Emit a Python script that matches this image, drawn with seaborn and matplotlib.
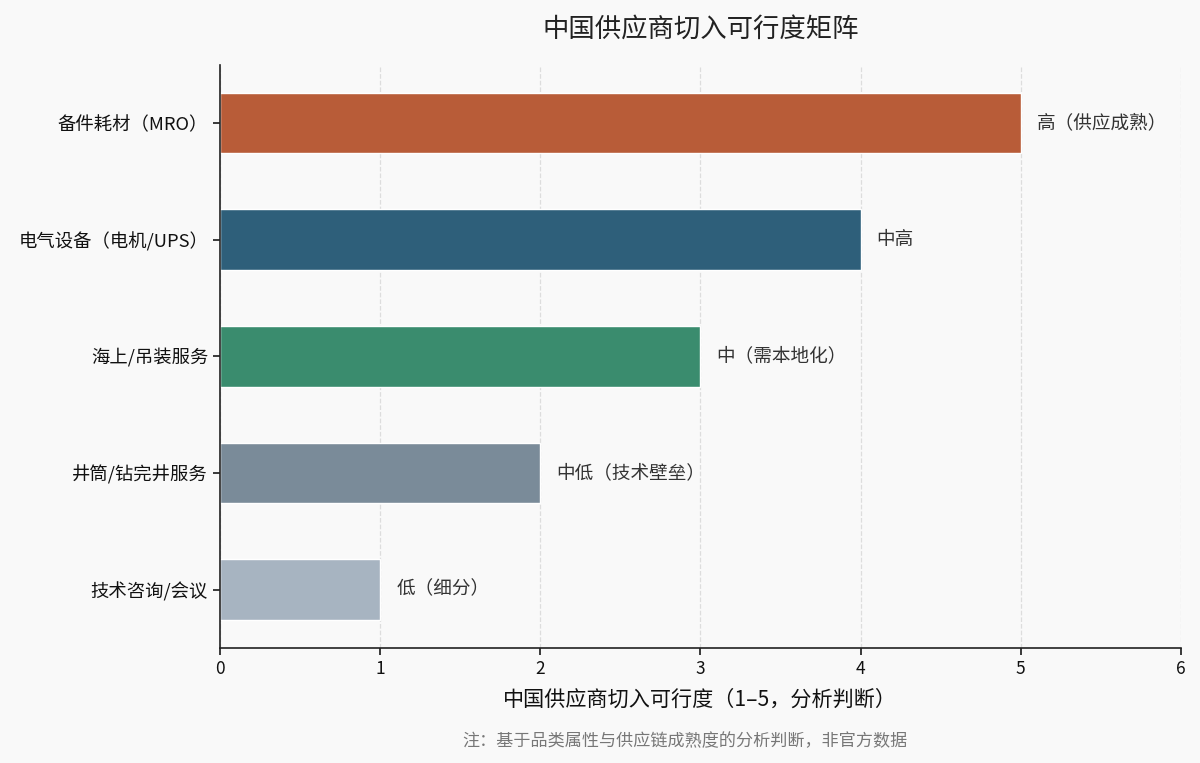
import pandas as pd
import seaborn as sns
import matplotlib.pyplot as plt

categories = ['备件耗材（MRO）', '电气设备（电机/UPS）', '海上/吊装服务', '井筒/钻完井服务', '技术咨询/会议']
scores = [5, 4, 3, 2, 1]
labels = ['高（供应成熟）', '中高', '中（需本地化）', '中低（技术壁垒）', '低（细分）']
colors = ['#B85C38', '#2E5F7A', '#3A8C6E', '#7A8B99', '#A7B4C1']

df = pd.DataFrame({'category': categories, 'score': scores})

sns.set_theme(style='white')
plt.rcParams['font.family'] = ['Noto Sans CJK SC', 'DejaVu Sans']
plt.rcParams['axes.unicode_minus'] = False

fig = plt.figure(figsize=(12, 7.63), dpi=100, facecolor='#f9f9f9')
ax = fig.add_axes([0.1833, 0.1507, 0.8007, 0.7643])
ax.set_facecolor('#f9f9f9')

sns.barplot(data=df, x='score', y='category', hue='category', palette=colors,
            width=0.52, legend=False, ax=ax, saturation=1)

for i, (v, t) in enumerate(zip(scores, labels)):
    ax.text(v + 0.1, i, t, va='center', ha='left', fontsize=13.4, color='#333333')

ax.set_xlim(0, 6)
ax.set_xticks(range(0, 7))
ax.grid(axis='x', linestyle='--', color='#dddddd', linewidth=0.9)
ax.set_axisbelow(True)
sns.despine(ax=ax)
for s in ['left', 'bottom']:
    ax.spines[s].set_color('#222222')
    ax.spines[s].set_linewidth(1.2)
ax.tick_params(axis='y', labelsize=13.2)
ax.tick_params(axis='x', labelsize=12.5)
ax.tick_params(axis='both', which='both', length=5, color='#222222',
               labelcolor='#111111', left=True, bottom=True)
ax.set_ylabel('')
ax.set_xlabel('中国供应商切入可行度（1–5，分析判断）', fontsize=15.2, color='#111111', labelpad=8)
ax.set_title('中国供应商切入可行度矩阵', fontsize=19, color='#222222', pad=20)
fig.text(0.571, 0.022, '注：基于品类属性与供应链成熟度的分析判断，非官方数据', ha='center',
         fontsize=12.3, color='#777777')

fig.savefig('out.png', dpi=100, facecolor=fig.get_facecolor())
